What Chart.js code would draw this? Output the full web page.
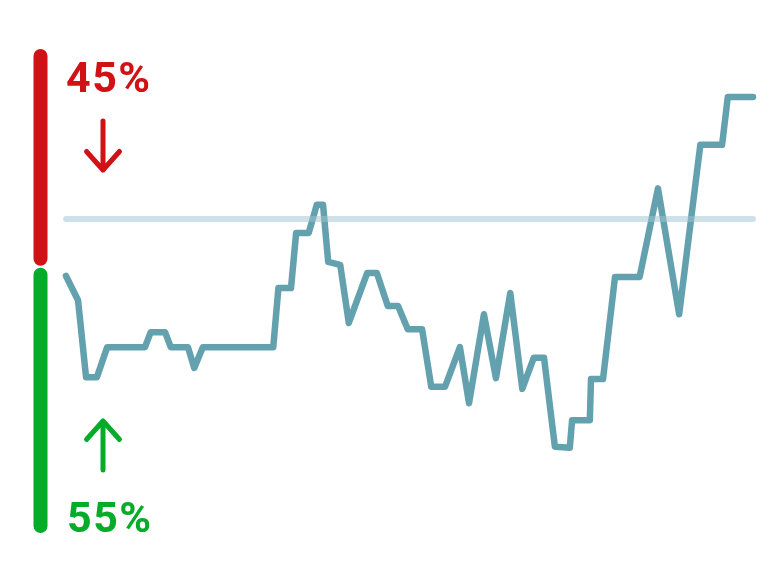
<!DOCTYPE html>
<html>
<head>
<meta charset="utf-8">
<script src="https://cdn.jsdelivr.net/npm/chart.js@4"></script>
<style>
html,body{margin:0;padding:0;background:#fff;}
#wrap{width:780px;height:582px;}
</style>
</head>
<body>
<div id="wrap"><canvas id="c" width="780" height="582"></canvas></div>
<script>
// x positions (days) and values of the trend line
const days = [0, 2.1, 3.5, 5.4, 7.2, 13.8, 14.8, 17.3, 18.3, 21.3, 22.4, 23.9, 36.2, 37.1, 39.3, 40.2, 42.4, 43.8, 44.9, 45.8, 47.9, 49.4, 52.6, 54.3, 56.2, 58.0, 59.7, 62.2, 63.8, 66.2, 68.8, 70.4, 73.0, 75.1, 77.6, 79.7, 81.7, 83.5, 85.4, 88.0, 88.4, 91.5, 91.7, 93.8, 95.9, 100.2, 103.4, 107.1, 110.8, 114.6, 115.6, 120];
const values = [53.1, 48.1, 32.2, 32.2, 38.4, 38.4, 41.5, 41.5, 38.4, 38.4, 34.1, 38.4, 38.4, 50.6, 50.6, 62.0, 62.0, 67.8, 67.8, 56.0, 55.4, 43.4, 53.7, 53.7, 46.9, 46.9, 42.1, 42.1, 30.2, 30.2, 38.4, 26.8, 45.2, 32.0, 49.6, 29.8, 36.2, 36.2, 17.8, 17.6, 23.3, 23.3, 31.8, 31.8, 52.9, 52.9, 71.2, 45.2, 80.2, 80.2, 90.1, 90.1];
const referenceValue = 64.9;
// split bar: [down share (red), up share (green)]
const splitValues = [45, 55];
const splitColors = ['#d01116', '#05ac2a'];

const linePoints = days.map((d, i) => ({x: d, y: values[i]}));
const refPoints = [{x: days[0], y: referenceValue}, {x: days[days.length - 1], y: referenceValue}];

const splitPlugin = {
  id: 'splitBar',
  afterDraw(chart) {
    const ctx = chart.ctx;
    const ys = chart.scales.y;
    const area = chart.chartArea;
    const cx = area.left - 25.5;
    const w = 14;
    const gap = 1;
    const splitVal = 100 - splitValues[0];
    const yTop = ys.getPixelForValue(100);
    const ySplit = ys.getPixelForValue(splitVal);
    const yBot = ys.getPixelForValue(0);
    function pill(y1, y2, color) {
      ctx.save();
      ctx.fillStyle = color;
      ctx.beginPath();
      ctx.roundRect(cx - w / 2, y1, w, y2 - y1, w / 2);
      ctx.fill();
      ctx.restore();
    }
    pill(yTop, ySplit - gap, splitColors[0]);
    pill(ySplit + gap, yBot, splitColors[1]);

    // labels
    ctx.save();
    ctx.font = 'bold 43px Roboto';
    ctx.letterSpacing = '1.5px';
    ctx.textAlign = 'left';
    ctx.textBaseline = 'alphabetic';
    ctx.fillStyle = splitColors[0];
    ctx.fillText(splitValues[0] + '%', area.left, area.top + 43);
    ctx.fillStyle = splitColors[1];
    ctx.fillText(splitValues[1] + '%', area.left + 1, area.bottom - 1);
    ctx.restore();

    // arrows
    function arrow(x, yFrom, yTo, color) {
      const dir = Math.sign(yTo - yFrom);
      ctx.save();
      ctx.strokeStyle = color;
      ctx.lineWidth = 5;
      ctx.lineCap = 'round';
      ctx.lineJoin = 'round';
      ctx.beginPath();
      ctx.moveTo(x, yFrom);
      ctx.lineTo(x, yTo);
      ctx.moveTo(x - 16.5, yTo - dir * 18.5);
      ctx.lineTo(x, yTo);
      ctx.lineTo(x + 16.5, yTo - dir * 18.5);
      ctx.stroke();
      ctx.restore();
    }
    const ax = area.left + 37;
    arrow(ax, area.top + 72, area.top + 121, splitColors[0]);
    arrow(ax, area.bottom - 63, area.bottom - 112, splitColors[1]);
  }
};

new Chart(document.getElementById('c'), {
  type: 'line',
  data: {
    datasets: [
      {
        data: refPoints,
        borderColor: 'rgba(160,196,210,0.5)',
        borderWidth: 6,
        borderCapStyle: 'round',
        pointRadius: 0,
        clip: false,
        order: 0
      },
      {
        data: linePoints,
        borderColor: '#64a1af',
        borderWidth: 6.5,
        borderCapStyle: 'round',
        borderJoinStyle: 'round',
        pointRadius: 0,
        tension: 0,
        clip: false,
        order: 1
      }
    ]
  },
  options: {
    responsive: false,
    animation: false,
    events: [],
    layout: {padding: {left: 66, right: 27, top: 49, bottom: 49}},
    plugins: {legend: {display: false}, tooltip: {enabled: false}},
    scales: {
      x: {type: 'linear', min: 0, max: 120, display: false},
      y: {type: 'linear', min: 0, max: 100, display: false}
    }
  },
  plugins: [splitPlugin]
});
</script>
</body>
</html>
